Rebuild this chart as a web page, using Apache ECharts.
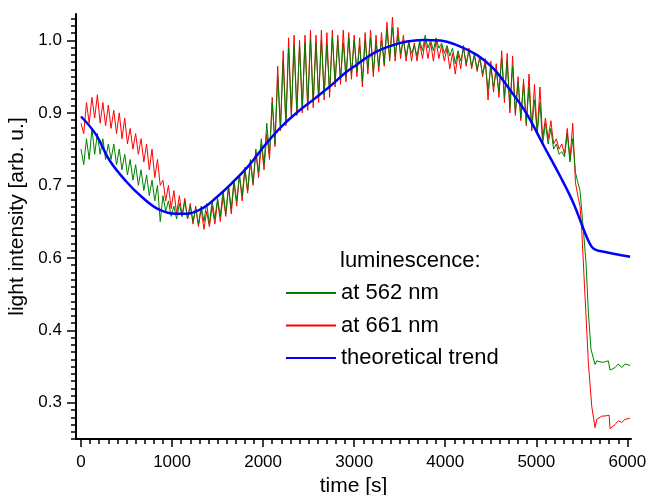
<!DOCTYPE html>
<html><head><meta charset="utf-8">
<script src="https://cdn.jsdelivr.net/npm/echarts@6/dist/echarts.min.js"></script>
<style>html,body{margin:0;padding:0;background:#fff}#c{width:648px;height:495px}</style>
</head><body><div id="c"></div>
<script>
// sampling grid of the oscillating traces: one reading every 30 s from 0 to 5400 s
const sampleStep = 30;

// luminescence at 562 nm (green), 0..5400 s
const green562 = [
  0.79,0.76,0.81,0.77,0.83,0.78,0.82,0.78,0.81,0.77,
  0.80,0.77,0.80,0.76,0.79,0.75,0.78,0.74,0.77,0.73,
  0.76,0.72,0.75,0.71,0.74,0.70,0.73,0.69,0.72,0.65,
  0.70,0.67,0.69,0.66,0.68,0.655,0.685,0.66,0.69,0.655,
  0.68,0.65,0.675,0.645,0.68,0.65,0.685,0.645,0.69,0.655,
  0.695,0.66,0.71,0.665,0.72,0.675,0.73,0.69,0.74,0.70,
  0.755,0.71,0.77,0.725,0.79,0.745,0.81,0.76,0.84,0.78,
  0.88,0.80,0.93,0.83,0.96,0.84,0.985,0.86,0.99,0.865,
  0.99,0.87,0.995,0.875,1.0,0.88,0.995,0.89,1.0,0.895,
  0.99,0.90,1.005,0.92,1.0,0.925,0.995,0.93,1.005,0.935,
  1.0,0.94,0.99,0.92,1.0,0.945,1.005,0.94,0.995,0.95,
  1.0,0.955,1.02,0.965,1.025,0.97,1.01,0.975,1.0,0.97,
  0.995,0.975,0.99,0.97,1.0,0.98,1.01,0.985,1.0,0.98,
  1.005,0.985,0.995,0.975,0.99,0.97,0.985,0.955,0.98,0.96,
  0.985,0.955,0.98,0.95,0.97,0.945,0.965,0.935,0.955,0.905,
  0.95,0.91,0.94,0.90,0.965,0.89,0.96,0.87,0.95,0.86,
  0.92,0.85,0.915,0.84,0.91,0.83,0.885,0.82,0.88,0.80,
  0.84,0.80,0.83,0.79,0.80,0.78,0.785,0.775,0.82,0.765,
  0.81
];
// luminescence at 661 nm (red), same grid
const red661 = [
  0.84,0.82,0.88,0.84,0.89,0.85,0.895,0.84,0.88,0.835,
  0.875,0.83,0.865,0.82,0.86,0.81,0.85,0.80,0.83,0.79,
  0.82,0.78,0.81,0.765,0.80,0.75,0.79,0.735,0.77,0.72,
  0.73,0.69,0.72,0.675,0.71,0.665,0.70,0.66,0.695,0.655,
  0.685,0.645,0.68,0.64,0.675,0.635,0.67,0.64,0.68,0.645,
  0.69,0.65,0.70,0.66,0.715,0.665,0.725,0.68,0.74,0.69,
  0.75,0.705,0.765,0.72,0.785,0.735,0.80,0.75,0.82,0.77,
  0.89,0.795,0.95,0.825,0.98,0.835,1.005,0.85,1.01,0.855,
  1.0,0.86,1.01,0.865,1.02,0.87,1.01,0.88,1.02,0.885,
  1.015,0.89,1.02,0.91,1.01,0.915,1.02,0.92,1.015,0.925,
  1.01,0.93,1.005,0.91,1.015,0.935,1.02,0.93,1.01,0.94,
  1.015,0.95,1.035,0.96,1.045,0.96,1.025,0.965,1.01,0.96,
  1.0,0.96,0.995,0.96,0.995,0.965,1.0,0.965,0.995,0.96,
  1.0,0.965,0.99,0.96,0.985,0.945,0.975,0.935,0.975,0.945,
  0.99,0.95,0.985,0.945,0.975,0.94,0.97,0.93,0.965,0.885,
  0.96,0.90,0.955,0.89,0.98,0.88,0.975,0.86,0.97,0.855,
  0.93,0.845,0.925,0.835,0.935,0.825,0.915,0.82,0.91,0.81,
  0.85,0.81,0.845,0.80,0.81,0.79,0.80,0.78,0.83,0.77,
  0.84
];
// the drop and the plateau after it
const greenTailTime  = [5430,5450,5480,5517,5546,5572,5601,5645,5664,5700,5736,5791,5810,5865,5901,5938,5975,6030];
const greenTailValue = [0.745,0.73,0.71,0.634,0.57,0.474,0.403,0.374,0.381,0.379,0.378,0.381,0.363,0.368,0.375,0.368,0.375,0.372];
const redTailTime  = [5430,5462,5480,5499,5535,5572,5609,5645,5664,5719,5774,5800,5810,5865,5901,5938,5975,6030];
const redTailValue = [0.725,0.695,0.68,0.634,0.506,0.377,0.293,0.252,0.268,0.274,0.275,0.276,0.25,0.258,0.265,0.262,0.268,0.27];

// theoretical trend (blue)
const trendTime  = [0,165,311,494,678,860,1043,1153,1337,1483,1655,1837,2021,2204,2387,2570,2753,2900,3028,3210,3394,3577,3760,3943,4126,4346,4528,4712,4895,5077,5261,5407,5517,5580,5627,5700,6030];
const trendValue = [0.853,0.818,0.769,0.728,0.696,0.673,0.665,0.665,0.676,0.696,0.724,0.757,0.798,0.834,0.863,0.888,0.914,0.937,0.953,0.975,0.989,0.998,1.001,1.0,0.991,0.972,0.946,0.904,0.858,0.798,0.738,0.686,0.636,0.61,0.598,0.593,0.582];

const xTickValues = [0,1000,2000,3000,4000,5000,6000];
const yTickValues = [0.3,0.44,0.58,0.72,0.86,1.0];
const seriesNames = ['at 562 nm','at 661 nm','theoretical trend'];

const xMinor = []; for (let t = 0; t <= 6000; t += 100) xMinor.push(t);
const yMinor = []; for (let k = -5; k <= 53; k++) yMinor.push(+(0.3 + k * 0.014).toFixed(3));

const greenData = green562.map((v, i) => [i * sampleStep, v]).concat(greenTailTime.map((t, i) => [t, greenTailValue[i]]));
const redData = red661.map((v, i) => [i * sampleStep, v]).concat(redTailTime.map((t, i) => [t, redTailValue[i]]));
const trendData = trendTime.map((t, i) => [t, trendValue[i]]);

const FONT = '"Liberation Sans", Arial, Helvetica, sans-serif';
const X_MIN = -55, X_MAX = 6040, Y_MIN = 0.23, Y_MAX = 1.051;

const chart = echarts.init(document.getElementById('c'), null, {renderer: 'canvas'});
chart.setOption({
  animation: false,
  backgroundColor: '#fff',
  textStyle: {fontFamily: FONT, color: '#000'},
  grid: {left: 76, right: 17, top: 14, bottom: 56, containLabel: false, outerBoundsMode: 'none'},
  xAxis: [{
    type: 'value', min: X_MIN, max: X_MAX, position: 'bottom',
    name: 'time [s]', nameLocation: 'middle', nameGap: 36,
    nameTextStyle: {fontSize: 21, color: '#000', fontFamily: FONT},
    splitLine: {show: false},
    axisLine: {show: true, onZero: false, lineStyle: {color: '#000', width: 2}},
    axisTick: {show: true, length: 8, lineStyle: {color: '#000', width: 1.5}, customValues: xTickValues},
    axisLabel: {show: true, margin: 15, fontSize: 17, color: '#000', fontFamily: FONT, customValues: xTickValues, formatter: v => String(v)}
  }, {
    type: 'value', min: X_MIN, max: X_MAX, position: 'bottom',
    splitLine: {show: false},
    axisLine: {show: false, onZero: false},
    axisTick: {show: true, length: 5, lineStyle: {color: '#000', width: 1.5}, customValues: xMinor},
    axisLabel: {show: false}
  }],
  yAxis: [{
    type: 'value', min: Y_MIN, max: Y_MAX, position: 'left',
    name: 'light intensity [arb. u.]', nameLocation: 'middle', nameGap: 34,
    nameTextStyle: {fontSize: 21, color: '#000', fontFamily: FONT, padding: [0, 0, 0, 20]},
    splitLine: {show: false},
    axisLine: {show: true, onZero: false, lineStyle: {color: '#000', width: 2}},
    axisTick: {show: true, length: 9, lineStyle: {color: '#000', width: 1.5}, customValues: yTickValues},
    axisLabel: {show: true, margin: 14, fontSize: 17, color: '#000', fontFamily: FONT, customValues: yTickValues, formatter: v => v.toFixed(1)}
  }, {
    type: 'value', min: Y_MIN, max: Y_MAX, position: 'left',
    splitLine: {show: false},
    axisLine: {show: false, onZero: false},
    axisTick: {show: true, length: 5, lineStyle: {color: '#000', width: 1.5}, customValues: yMinor},
    axisLabel: {show: false}
  }],
  legend: {
    data: seriesNames, orient: 'vertical', left: 285, top: 282, padding: 0,
    itemWidth: 50, itemHeight: 12, itemGap: 10.5,
    itemStyle: {opacity: 0},
    textStyle: {fontSize: 22, color: '#000', fontFamily: FONT}
  },
  graphic: [{
    type: 'text', x: 340, y: 261,
    style: {text: 'luminescence:', fontSize: 22, fontFamily: FONT, fill: '#000', verticalAlign: 'middle', align: 'left'}
  }],
  series: [{
    name: seriesNames[1], type: 'line', data: redData, symbol: 'none', showSymbol: false,
    lineStyle: {color: '#ff0000', width: 1}, itemStyle: {color: '#ff0000'}, z: 2
  }, {
    name: seriesNames[0], type: 'line', data: greenData, symbol: 'none', showSymbol: false,
    lineStyle: {color: '#008000', width: 1}, itemStyle: {color: '#008000'}, z: 3
  }, {
    name: seriesNames[2], type: 'line', data: trendData, symbol: 'none', showSymbol: false, smooth: 0.4,
    lineStyle: {color: '#0000ff', width: 2.5}, itemStyle: {color: '#0000ff'}, z: 4
  }]
});
</script></body></html>
